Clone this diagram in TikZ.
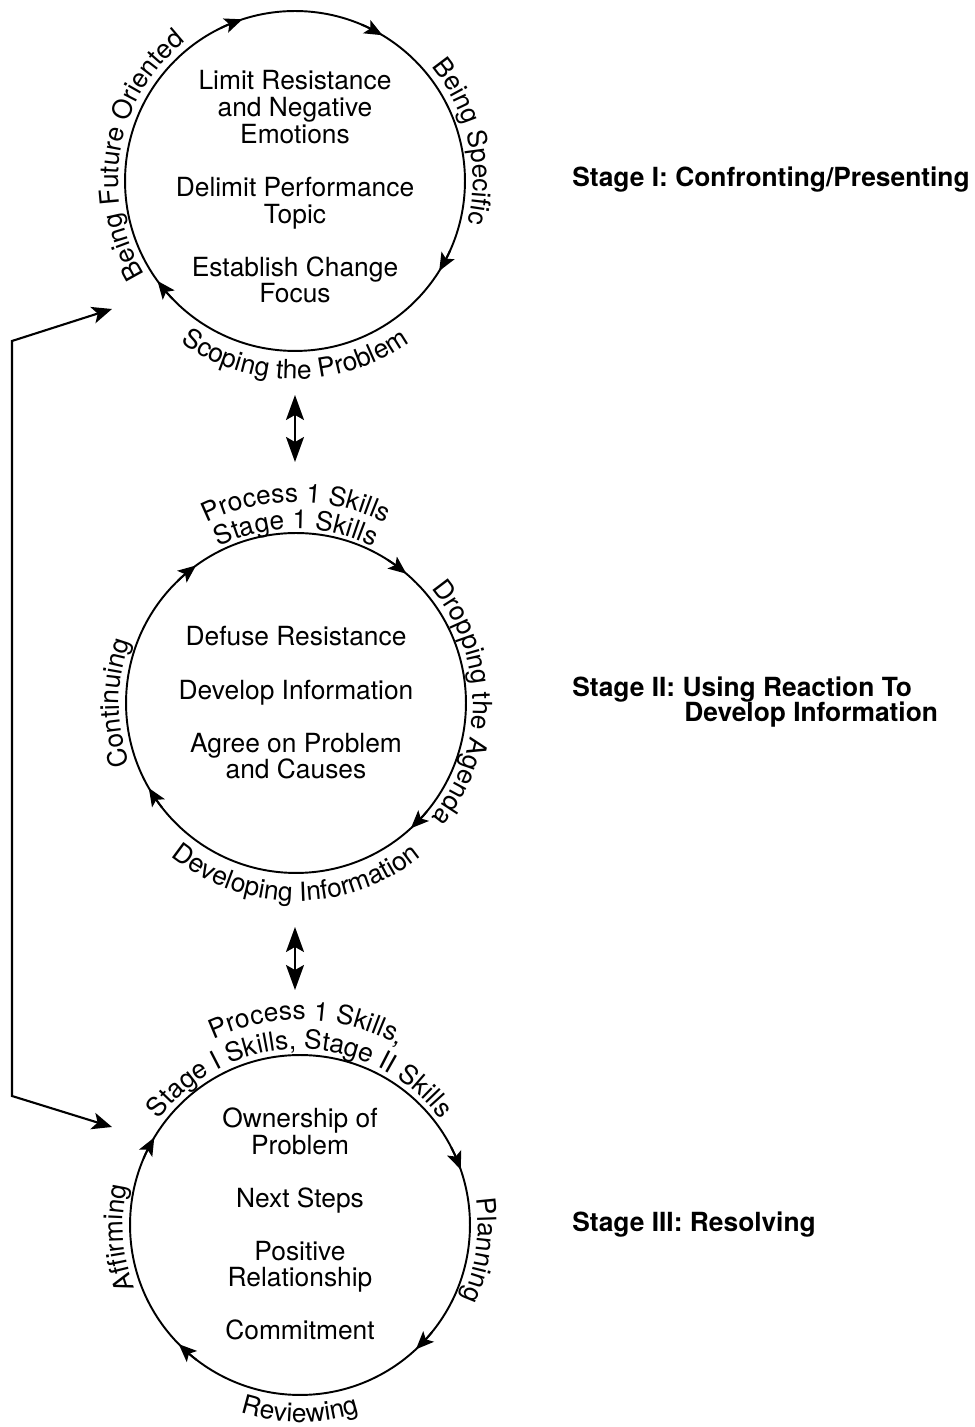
\documentclass[tikz,border=0pt]{standalone}
\usepackage{fontspec}
\setmainfont{TeX Gyre Heros}
\usepackage{tikz}
\usetikzlibrary{arrows.meta, bending, calc, decorations.text}
\newcommand{\bodyfont}{\fontsize{15}{15.2}\selectfont}

\tikzset{
  ring/.style={draw, circle, line width=1.1pt, minimum size=6.8cm, inner sep=0pt},
  core/.style={align=center, font=\bodyfont, inner sep=0pt},
  turn/.style={line width=1.1pt, -{Stealth[length=0.36cm, width=0.3cm, inset=0.08cm]}},
  link/.style={line width=1.1pt, {Stealth[length=0.5cm, width=0.36cm, inset=0.1cm]}-{Stealth[length=0.5cm, width=0.36cm, inset=0.1cm]}},
  back/.style={line width=1.2pt, {Stealth[length=0.4cm, width=0.34cm, inset=0.1cm]}-{Stealth[length=0.4cm, width=0.34cm, inset=0.1cm]}},
  arclabel/.style={decorate, decoration={text along path, text align=center, text={|\bodyfont|#1}}},
  stage/.style={font=\bodyfont\bfseries, inner sep=0pt, anchor=base west},
}

\begin{document}
\begin{tikzpicture}[x=0.02cm, y=0.02cm]
\useasboundingbox (0,0) rectangle (974,1427);

\node[ring] (c1) at (295,1246) {};
\node[ring] (c2) at (296,724) {};
\node[ring] (c3) at (300,202) {};

\node[core] (t1) at ($(c1)+(0,-6)$) {Limit Resistance\\and Negative\\Emotions\\[15pt]Delimit Performance\\Topic\\[15pt]Establish Change\\Focus};
\node[core] (t2) at (c2) {Defuse Resistance\\[15pt]Develop Information\\[15pt]Agree on Problem\\and Causes};
\node[core] (t3) at ($(c3)+(0,1)$) {Ownership of\\Problem\\[15pt]Next Steps\\[15pt]Positive\\Relationship\\[15pt]Commitment};

\foreach \a in {108,59,-32,216}
  \draw[turn] ($(c1)+(\a+8:170)$) arc[start angle=\a+8, end angle=\a, radius=170];
\foreach \a in {126,49.5,-47.5,210}
  \draw[turn] ($(c2)+(\a+8:170)$) arc[start angle=\a+8, end angle=\a, radius=170];
\foreach \a in {149,19,-47,224.5}
  \draw[turn] ($(c3)+(\a+8:170)$) arc[start angle=\a+8, end angle=\a, radius=170];

\path[arclabel=Being Future Oriented] ($(c1)+(240:177)$) arc[start angle=240, end angle=100, radius=177];
\path[arclabel=Being Specific] ($(c1)+(83:178)$) arc[start angle=83, end angle=-57, radius=178];
\path[arclabel=Scoping the Problem] ($(c1)+(200:198)$) arc[start angle=200, end angle=340, radius=198];

\path[arclabel=Process 1 Skills] ($(c2)+(160:201)$) arc[start angle=160, end angle=20, radius=201];
\path[arclabel=Stage 1 Skills] ($(c2)+(160:174)$) arc[start angle=160, end angle=20, radius=174];
\path[arclabel=Dropping the Agenda] ($(c2)+(70:177)$) arc[start angle=70, end angle=-70, radius=177];
\path[arclabel=Continuing] ($(c2)+(250:177)$) arc[start angle=250, end angle=110, radius=177];
\path[arclabel=Developing Information] ($(c2)+(200:198)$) arc[start angle=200, end angle=340, radius=198];

\path[arclabel={Process 1 Skills,}] ($(c3)+(158:205)$) arc[start angle=158, end angle=18, radius=205];
\path[arclabel={Stage I Skills, Stage II Skills}] ($(c3)+(170:176)$) arc[start angle=170, end angle=10, radius=176];
\path[arclabel=Planning] ($(c3)+(62:178)$) arc[start angle=62, end angle=-78, radius=178];
\path[arclabel=Affirming] ($(c3)+(254:177)$) arc[start angle=254, end angle=114, radius=177];
\path[arclabel=Reviewing] ($(c3)+(200:197)$) arc[start angle=200, end angle=340, radius=197];

\coordinate (gap1 top) at (295,1032);
\coordinate (gap1 low) at (295,965);
\coordinate (gap2 top) at (295,500);
\coordinate (gap2 low) at (295,437);
\draw[link] (gap1 top) -- (gap1 low);
\draw[link] (gap2 top) -- (gap2 low);

\coordinate (top end) at (112,1118);
\coordinate (top bend) at (12,1086);
\coordinate (low bend) at (12,331);
\coordinate (low end) at (112,300);
\draw[back] (top end) -- (top bend) -- (low bend) -- (low end);

\node[stage] (s1) at (572,1240) {Stage I: Confronting/Presenting};
\node[stage] (s2) at (572,730) {Stage II: Using Reaction To};
\node[stage] (s2b) at (684,705) {Develop Information};
\node[stage] (s3) at (572,195) {Stage III: Resolving};
\end{tikzpicture}
\end{document}
